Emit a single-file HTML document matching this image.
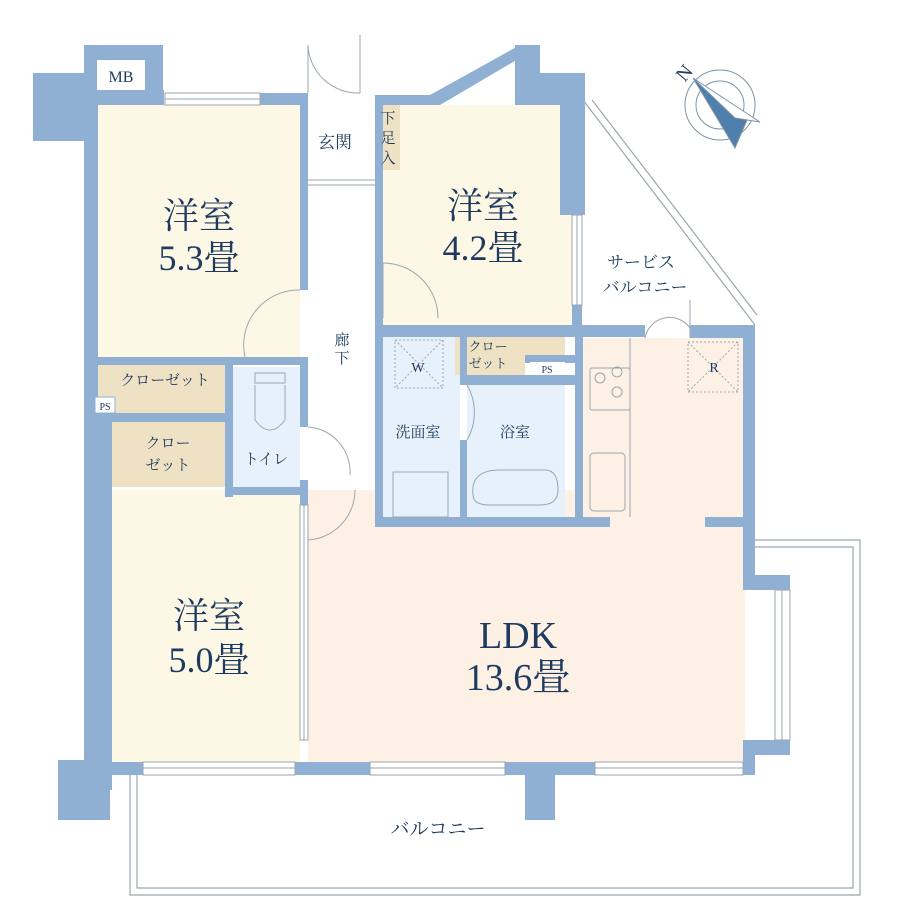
<!DOCTYPE html>
<html><head><meta charset="utf-8"><style>
html,body{margin:0;padding:0;background:#fff}
svg{display:block}
text{font-family:"Liberation Serif","Noto Serif CJK SC",serif;fill:#1e3a5f}
</style></head><body>
<svg width="920" height="920" viewBox="0 0 920 920" xmlns="http://www.w3.org/2000/svg">
<g fill="none" stroke="#9aa6b2" stroke-width="1.2">
<path d="M130 775 V895 H860 V540 H755"/>
<path d="M137 775 V888 H853 V547 H755"/>
<line x1="583" y1="100" x2="755" y2="325"/>
<line x1="592" y1="100" x2="757" y2="315"/>
</g>
<rect x="98" y="105" width="202" height="252" fill="#fdf8e6"/>
<rect x="383" y="105" width="189" height="220" fill="#fdf8e6"/>
<rect x="110" y="490" width="190" height="272" fill="#fdf8e6"/>
<rect x="308" y="490" width="437" height="272" fill="#fdf1e6"/>
<rect x="582" y="338" width="163" height="190" fill="#fdf1e6"/>
<rect x="383" y="337" width="77" height="180" fill="#e6f1fb"/>
<rect x="467" y="385" width="98" height="132" fill="#e6f1fb"/>
<rect x="233" y="367" width="67" height="120" fill="#e6f1fb"/>
<rect x="98" y="365" width="127" height="48" fill="#efe2c4"/>
<rect x="112" y="422" width="113" height="65" fill="#efe2c4"/>
<rect x="455" y="337" width="110" height="25" fill="#efe2c4"/>
<rect x="455" y="337" width="70" height="38" fill="#efe2c4"/>
<rect x="377" y="105" width="23" height="65" fill="#efe2c4"/>
<g fill="#8fb0d2">
<rect x="33" y="73" width="65" height="68"/>
<rect x="84" y="45" width="14" height="745"/>
<rect x="84" y="45" width="79" height="15"/>
<rect x="145" y="45" width="18" height="60"/>
<rect x="84" y="90" width="80" height="15"/>
<rect x="260" y="93" width="48" height="12"/>
<rect x="300" y="93" width="8" height="197"/>
<rect x="375" y="95" width="8" height="235"/>
<rect x="375" y="95" width="65" height="10"/>
<polygon points="430,95 520,45 525,55 440,105"/>
<rect x="515" y="45" width="25" height="60"/>
<rect x="518" y="73" width="67" height="32"/>
<rect x="560" y="73" width="25" height="142"/>
<rect x="572" y="305" width="10" height="30"/>
<rect x="375" y="325" width="270" height="12"/>
<rect x="690" y="325" width="65" height="13"/>
<rect x="743" y="325" width="12" height="255"/>
<rect x="743" y="575" width="47" height="15"/>
<rect x="743" y="740" width="47" height="15"/>
<rect x="743" y="740" width="12" height="35"/>
<rect x="375" y="325" width="8" height="200"/>
<rect x="375" y="517" width="235" height="10"/>
<rect x="705" y="517" width="40" height="10"/>
<rect x="575" y="325" width="8" height="200"/>
<rect x="460" y="337" width="7" height="48"/>
<rect x="460" y="375" width="115" height="10"/>
<rect x="460" y="440" width="7" height="85"/>
<rect x="525" y="355" width="50" height="8"/>
<rect x="98" y="357" width="210" height="8"/>
<rect x="225" y="357" width="8" height="140"/>
<rect x="98" y="413" width="135" height="9"/>
<rect x="225" y="487" width="83" height="8"/>
<rect x="300" y="357" width="8" height="70"/>
<rect x="300" y="480" width="8" height="15"/>
<rect x="98" y="413" width="14" height="377"/>
<rect x="58" y="760" width="52" height="60"/>
<rect x="58" y="762" width="85" height="13"/>
<rect x="295" y="762" width="75" height="13"/>
<rect x="505" y="762" width="90" height="13"/>
<rect x="525" y="762" width="30" height="58"/>
<rect x="300" y="495" width="8" height="10"/>
</g>
<rect x="97" y="60" width="48" height="30" fill="#fff"/>
<g fill="none" stroke="#9aa6b2" stroke-width="1">
<rect x="165" y="93" width="95" height="12"/><line x1="165" y1="99" x2="260" y2="99"/>
<rect x="572" y="215" width="10" height="90"/><line x1="577" y1="215" x2="577" y2="305"/>
<rect x="300" y="505" width="8" height="235"/><line x1="304" y1="505" x2="304" y2="740"/>
<rect x="143" y="762" width="152" height="13"/><line x1="143" y1="768" x2="295" y2="768"/>
<rect x="370" y="762" width="135" height="13"/><line x1="370" y1="768" x2="505" y2="768"/>
<rect x="595" y="762" width="148" height="13"/><line x1="595" y1="768" x2="743" y2="768"/>
<rect x="775" y="590" width="15" height="150"/><line x1="782" y1="590" x2="782" y2="740"/>
<line x1="308" y1="180" x2="375" y2="180"/><line x1="308" y1="185" x2="375" y2="185"/>
<path d="M308 93 V45 A50 50 0 0 0 360 93" /><line x1="360" y1="35" x2="360" y2="93"/>
<path d="M383 263 A55 55 0 0 1 438 318"/><line x1="383" y1="263" x2="383" y2="318"/>
<path d="M300 290 A55 55 0 0 0 245 357"/>
<path d="M308 427 A45 45 0 0 1 350 475"/>
<path d="M467 385 A55 55 0 0 1 467 440"/>
<path d="M645 338 A25 25 0 0 1 690 328"/><line x1="690" y1="300" x2="690" y2="338"/>
<path d="M308 540 A50 50 0 0 0 355 490"/>
<rect x="590" y="368" width="40" height="42" rx="2"/>
<circle cx="600" cy="378" r="5"/><circle cx="617" cy="372" r="5"/><circle cx="617" cy="392" r="5"/>
<rect x="590" y="453" width="35" height="58" rx="4"/>
<line x1="630" y1="338" x2="630" y2="517"/>
<rect x="688" y="342" width="50" height="50" stroke-dasharray="2 2"/>
<line x1="688" y1="342" x2="738" y2="392" stroke-dasharray="2 2"/><line x1="738" y1="342" x2="688" y2="392" stroke-dasharray="2 2"/>
<rect x="395" y="340" width="48" height="48" stroke-dasharray="2 2"/>
<line x1="395" y1="340" x2="443" y2="388" stroke-dasharray="2 2"/><line x1="443" y1="340" x2="395" y2="388" stroke-dasharray="2 2"/>
<rect x="393" y="472" width="55" height="45"/>
<path d="M473 495 Q470 470 500 470 H545 Q558 470 558 490 Q558 505 540 505 H490 Q473 505 473 495Z"/>
<rect x="255" y="373" width="30" height="10"/>
<path d="M255 385 V420 Q270 440 285 420 V385"/>
</g>
<rect x="95" y="397" width="20" height="16" fill="#fff" stroke="#8fb0d2"/>
<rect x="530" y="362" width="35" height="12" fill="#fff"/>
<g fill="none" stroke="#7e94a8" stroke-width="1">
<circle cx="720" cy="105" r="35"/><circle cx="720" cy="105" r="24"/>
<polygon points="693,78 747,120 735,148" fill="#4f7fab"/>
<polygon points="693,78 760,122 735,118" fill="#fff"/>
</g>
<text x="675" y="78" font-size="20" transform="rotate(-50 685 70)">N</text>
<text x="121" y="82" font-size="16" text-anchor="middle">MB</text>
<text x="318" y="148" font-size="17">玄関</text>
<text x="388" y="123" font-size="15" text-anchor="middle">下</text><text x="388" y="143" font-size="15" text-anchor="middle">足</text><text x="388" y="163" font-size="15" text-anchor="middle">入</text>
<text x="199" y="228" font-size="36" text-anchor="middle">洋室</text>
<text x="199" y="270" font-size="36" text-anchor="middle">5.3畳</text>
<text x="483" y="218" font-size="36" text-anchor="middle">洋室</text>
<text x="483" y="260" font-size="36" text-anchor="middle">4.2畳</text>
<text x="209" y="628" font-size="36" text-anchor="middle">洋室</text>
<text x="209" y="672" font-size="36" text-anchor="middle">5.0畳</text>
<text x="518" y="648" font-size="38" text-anchor="middle">LDK</text>
<text x="518" y="690" font-size="38" text-anchor="middle">13.6畳</text>
<text x="641" y="268" font-size="17" text-anchor="middle">サービス</text>
<text x="645" y="293" font-size="17" text-anchor="middle">バルコニー</text>
<text x="342" y="345" font-size="15" text-anchor="middle">廊</text>
<text x="342" y="363" font-size="15" text-anchor="middle">下</text>
<text x="165" y="385" font-size="15" text-anchor="middle">クローゼット</text>
<text x="168" y="448" font-size="15" text-anchor="middle">クロー</text>
<text x="168" y="470" font-size="15" text-anchor="middle">ゼット</text>
<text x="266" y="464" font-size="15" text-anchor="middle">トイレ</text>
<text x="418" y="372" font-size="14" text-anchor="middle">W</text>
<text x="418" y="437" font-size="15" text-anchor="middle">洗面室</text>
<text x="515" y="437" font-size="15" text-anchor="middle">浴室</text>
<text x="488" y="351" font-size="13" text-anchor="middle">クロー</text>
<text x="488" y="368" font-size="13" text-anchor="middle">ゼット</text>
<text x="547" y="373" font-size="10" text-anchor="middle">PS</text>
<text x="105" y="410" font-size="10" text-anchor="middle">PS</text>
<text x="714" y="372" font-size="14" text-anchor="middle">R</text>
<text x="438" y="835" font-size="19" text-anchor="middle">バルコニー</text>
</svg>
</body></html>
